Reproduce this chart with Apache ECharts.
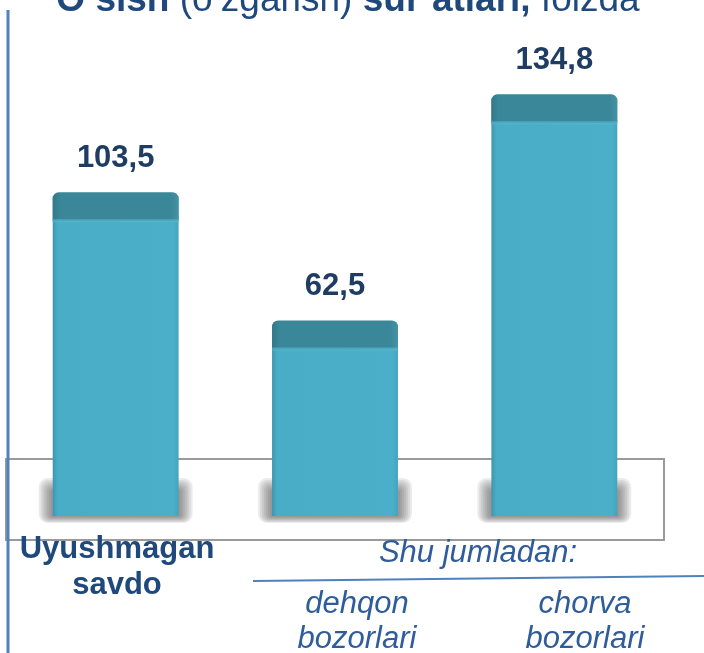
<!DOCTYPE html>
<html>
<head>
<meta charset="utf-8">
<script src="https://cdn.jsdelivr.net/npm/echarts@6/dist/echarts.min.js"></script>
<style>
html,body{margin:0;padding:0;background:#fff;}
#main{width:704px;height:653px;}
</style>
</head>
<body>
<div id="main"></div>
<script>
var categories = ['Uyushmagan savdo', 'dehqon bozorlari', 'chorva bozorlari'];
var values = [103.5, 62.5, 134.8];
var valueLabels = ['103,5', '62,5', '134,8'];
var titleParts = ['O‘sish', ' (o‘zgarish) ', 'sur’atlari,', ' foizda'];
var groupHeader = 'Shu jumladan:';

var FONT = '"Liberation Sans", Arial, sans-serif';
var NAVY = '#1F497D';
var ITAL = '#2F5C9A';

var chart = echarts.init(document.getElementById('main'));

function renderItem(params, api) {
  var idx = api.value(0);
  var val = api.value(1);
  var top = api.coord([idx, val]);
  var base = api.coord([idx, 0]);
  var bw = api.size([1, 0])[0] * 0.574;
  var x = top[0] - bw / 2;
  var capH = 29;
  var children = [];
  for (var k = 0; k < 7; k++) {
    children.push({
      type: 'rect',
      shape: { x: x - 2 - 2 * k, y: base[1] - 26 - 2 * k, width: bw + 4 + 4 * k, height: 27 + 3 * k, r: 3 + k },
      style: { fill: 'rgba(70,70,70,0.11)' },
      z2: 1
    });
  }
  children.push(
      {
        type: 'rect',
        shape: { x: x, y: top[1] + 4, width: bw, height: base[1] - top[1] - 4 },
        style: {
          fill: new echarts.graphic.LinearGradient(0, 0, 1, 0, [
            { offset: 0, color: '#3C97AE' },
            { offset: 0.04, color: '#4AADC7' },
            { offset: 0.96, color: '#4BAFC9' },
            { offset: 1, color: '#45A3BC' }
          ])
        },
        z2: 2
      },
      {
        type: 'rect',
        shape: { x: x, y: top[1], width: bw, height: capH, r: [6, 6, 0, 0] },
        style: {
          fill: new echarts.graphic.LinearGradient(0, 0, 1, 0, [
            { offset: 0, color: '#32788A' },
            { offset: 0.06, color: '#3A8799' },
            { offset: 0.94, color: '#3A8799' },
            { offset: 1, color: '#4592A5' }
          ])
        },
        z2: 3
      },
      {
        type: 'rect',
        shape: { x: x, y: top[1] + capH - 2, width: bw, height: 3 },
        style: { fill: 'rgba(90,190,215,0.6)' },
        z2: 4
      },
      {
        type: 'text',
        x: top[0],
        y: top[1] - 34,
        style: {
          text: valueLabels[idx],
          fill: '#1F3D63',
          font: 'bold 31px ' + FONT,
          align: 'center',
          verticalAlign: 'middle'
        },
        z2: 5
      }
  );
  return { type: 'group', children: children };
}

var option = {
  backgroundColor: '#ffffff',
  animation: false,
  grid: { left: 6, right: 40, top: 78, bottom: 137 },
  xAxis: {
    type: 'category',
    data: categories,
    show: false
  },
  yAxis: {
    type: 'value',
    min: 0,
    max: 140,
    show: false
  },
  series: [{
    type: 'custom',
    renderItem: renderItem,
    data: values.map(function (v, i) { return [i, v]; }),
    encode: { x: 0, y: 1 },
    z: 3
  }],
  graphic: [
    {
      type: 'rect', z: 1,
      shape: { x: 6, y: 459, width: 658, height: 81 },
      style: { fill: 'none', stroke: '#9A9A9A', lineWidth: 2 }
    },
    {
      type: 'line', z: 10,
      shape: { x1: 8, y1: 10, x2: 8, y2: 653 },
      style: { stroke: '#4F81BD', lineWidth: 3 }
    },
    {
      type: 'line', z: 10,
      shape: { x1: 253, y1: 581, x2: 704, y2: 576 },
      style: { stroke: '#4F81BD', lineWidth: 2 }
    },
    {
      type: 'text', z: 10, x: 348, y: 1,
      style: {
        text: '{b|' + titleParts[0] + '}{r|' + titleParts[1] + '}{b|' + titleParts[2] + '}{r|' + titleParts[3] + '}',
        align: 'center', verticalAlign: 'middle',
        rich: {
          b: { font: 'bold 37px ' + FONT, fill: NAVY },
          r: { font: '37px ' + FONT, fill: NAVY }
        }
      }
    },
    {
      type: 'text', z: 10, x: 117, y: 549,
      style: { text: categories[0].split(' ')[0], font: 'bold 31px ' + FONT, fill: NAVY, align: 'center', verticalAlign: 'middle' }
    },
    {
      type: 'text', z: 10, x: 117, y: 585,
      style: { text: categories[0].split(' ')[1], font: 'bold 31px ' + FONT, fill: NAVY, align: 'center', verticalAlign: 'middle' }
    },
    {
      type: 'text', z: 10, x: 478, y: 553,
      style: { text: groupHeader, font: 'italic 31px ' + FONT, fill: ITAL, align: 'center', verticalAlign: 'middle' }
    },
    {
      type: 'text', z: 10, x: 357, y: 604,
      style: { text: categories[1].split(' ')[0], font: 'italic 31px ' + FONT, fill: ITAL, align: 'center', verticalAlign: 'middle' }
    },
    {
      type: 'text', z: 10, x: 357, y: 639,
      style: { text: categories[1].split(' ')[1], font: 'italic 31px ' + FONT, fill: ITAL, align: 'center', verticalAlign: 'middle' }
    },
    {
      type: 'text', z: 10, x: 585, y: 604,
      style: { text: categories[2].split(' ')[0], font: 'italic 31px ' + FONT, fill: ITAL, align: 'center', verticalAlign: 'middle' }
    },
    {
      type: 'text', z: 10, x: 585, y: 639,
      style: { text: categories[2].split(' ')[1], font: 'italic 31px ' + FONT, fill: ITAL, align: 'center', verticalAlign: 'middle' }
    }
  ]
};
chart.setOption(option);
</script>
</body>
</html>
